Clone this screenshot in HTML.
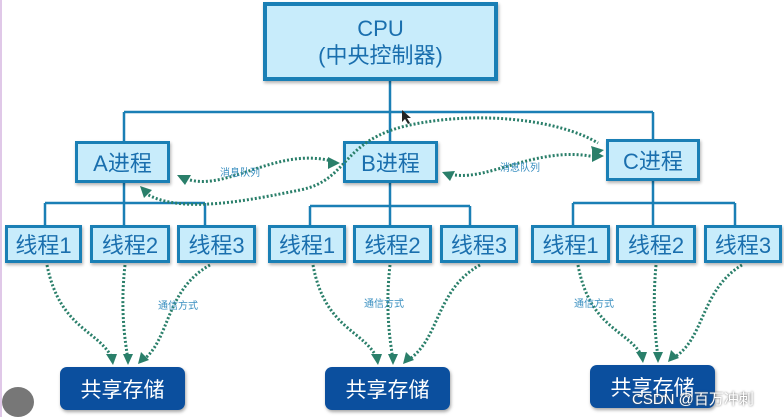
<!DOCTYPE html>
<html><head><meta charset="utf-8"><style>
body{margin:0;width:784px;height:417px;background:#fff;overflow:hidden;font-family:"Liberation Sans","Noto Sans CJK SC",sans-serif;position:relative}
.b{position:absolute;box-sizing:border-box;background:#c8ecfb;border:3px solid #1a7fb5;color:#1a6fae;display:flex;align-items:center;justify-content:center;text-align:center;box-shadow:1px 2px 3px rgba(0,0,0,.3)}
.t{font-size:22px}
.s{position:absolute;box-sizing:border-box;background:#0b4f9e;border-radius:7px;color:#fff;font-size:21px;display:flex;align-items:center;justify-content:center;box-shadow:1px 2px 3px rgba(0,0,0,.35)}
.l{position:absolute;font-size:10px;color:#3a8fc0}
</style></head><body>
<div style="position:absolute;left:0;top:0;width:2px;height:417px;background:#e0c8e8"></div>
<svg width="784" height="417" style="position:absolute;left:0;top:0">
<g stroke="#1a7fb5" stroke-width="2.5" fill="none">
<path d="M390 80V142M124 112H653M124 112V142M653 112V140"/>
<path d="M124 183V203M45 203H205M45 203V225M124 203V225M205 203V225"/>
<path d="M390 183V206M310 206H470M310 206V225M390 206V225M470 206V225"/>
<path d="M653 181V203M573 203H735M573 203V225M653 203V225M735 203V225"/>
</g>
<g stroke="#2a7f6a" stroke-width="3" stroke-dasharray="2 2" fill="none">
<path d="M190 180C230 190 280 145 335 162"/>
<path d="M455 175C490 180 540 145 595 157"/>
<path d="M47 265C60 330 100 330 113 360"/>
<path d="M125 265C120 310 125 340 128 360"/>
<path d="M210 265C165 290 170 340 143 360"/>
<path d="M313 265C325 330 365 330 378 360"/>
<path d="M390 265C385 310 390 340 393 360"/>
<path d="M480 265C435 290 440 340 408 360"/>
<path d="M578 265C590 330 630 330 643 358"/>
<path d="M656 265C652 310 656 340 658 358"/>
<path d="M742 265C700 290 705 340 673 358"/>
</g>
<g fill="#2a7f6a">
<path d="M177 175l14 0-6 10z"/><path d="M340 163l-12-6 0 12z"/><path d="M442 172l13-1-5 10z"/><path d="M604 156l-12-6 0 12z"/><path d="M604 150l-13-4 3 11z"/><path d="M140 186l12 4-8 8z"/>
<path d="M113 365l-7-11 11 0z"/><path d="M128 365l-5-11 10 0z"/><path d="M138 364l3-12 8 8z"/>
<path d="M378 365l-7-11 11 0z"/><path d="M393 365l-5-11 10 0z"/><path d="M403 364l3-12 8 8z"/>
<path d="M643 363l-7-11 11 0z"/><path d="M658 363l-5-11 10 0z"/><path d="M668 362l3-12 8 8z"/>
</g>
<path d="M402 110l0 12 3-3 3 5 2-1-3-5 4 0z" fill="#222"/>
</svg>
<div class="b" style="left:263px;top:2px;width:235px;height:79px;border-width:4px;font-size:22px;line-height:27px;flex-direction:column">CPU<br>(中央控制器)</div>
<div class="b t" style="left:75px;top:141px;width:95px;height:42px">A进程</div>
<div class="b t" style="left:343px;top:141px;width:95px;height:42px">B进程</div>
<div class="b t" style="left:606px;top:139px;width:94px;height:42px">C进程</div>
<div class="b t" style="left:5px;top:225px;width:77px;height:38px">线程1</div>
<div class="b t" style="left:90px;top:225px;width:80px;height:38px">线程2</div>
<div class="b t" style="left:177px;top:225px;width:79px;height:38px">线程3</div>
<div class="b t" style="left:268px;top:225px;width:78px;height:38px">线程1</div>
<div class="b t" style="left:353px;top:225px;width:79px;height:38px">线程2</div>
<div class="b t" style="left:440px;top:225px;width:78px;height:38px">线程3</div>
<div class="b t" style="left:531px;top:225px;width:79px;height:38px">线程1</div>
<div class="b t" style="left:616px;top:225px;width:80px;height:38px">线程2</div>
<div class="b t" style="left:704px;top:225px;width:78px;height:38px">线程3</div>
<svg width="784" height="417" style="position:absolute;left:0;top:0;pointer-events:none">
<path d="M145 193C180 215 250 200 300 190S340 140 410 125S560 120 598 143" stroke="#2a7f6a" stroke-width="3" stroke-dasharray="2 2" fill="none"/>
</svg>
<div class="s" style="left:60px;top:367px;width:125px;height:43px">共享存储</div>
<div class="s" style="left:325px;top:367px;width:125px;height:43px">共享存储</div>
<div class="s" style="left:590px;top:365px;width:125px;height:43px">共享存储</div>
<div class="l" style="left:220px;top:164px">消息队列</div>
<div class="l" style="left:500px;top:159px">消息队列</div>
<div class="l" style="left:158px;top:297px">通信方式</div>
<div class="l" style="left:364px;top:295px">通信方式</div>
<div class="l" style="left:574px;top:295px">通信方式</div>
<div style="position:absolute;left:632px;top:388px;font-size:15px;color:#fff;text-shadow:0 0 2px #555">CSDN @百万冲刺</div>
<div style="position:absolute;left:2px;top:387px;width:32px;height:30px;border-radius:50%;background:#777"></div>
</body></html>
